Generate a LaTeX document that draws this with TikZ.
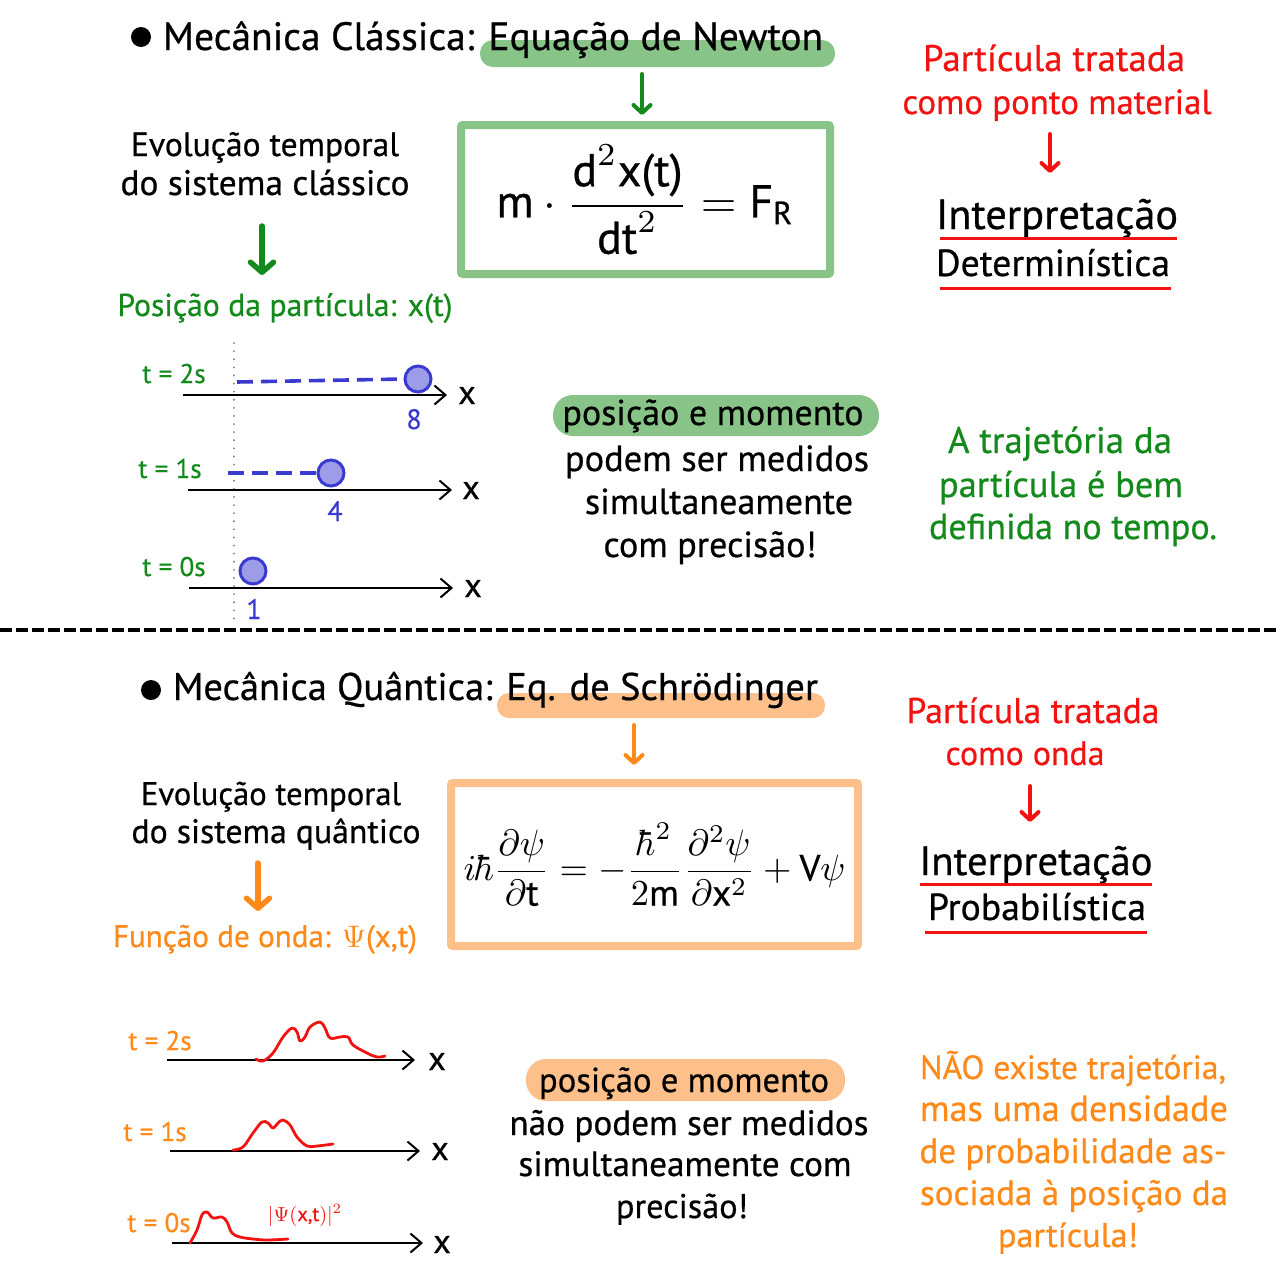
\documentclass[tikz,border=0pt]{standalone}
\usepackage{fontspec}
\setmainfont{PT Sans}[FakeBold=0.6]
\usepackage{graphicx}
\usetikzlibrary{arrows.meta}

\definecolor{hlgreen}{HTML}{88C488}
\definecolor{txgreen}{HTML}{138A1B}
\definecolor{hlorange}{HTML}{FDC08A}
\definecolor{txorange}{HTML}{FF8A1A}
\definecolor{txred}{HTML}{F21212}
\definecolor{ptblue}{HTML}{3A3AD0}
\definecolor{ptfill}{HTML}{9C9CE8}

% scale a line of text to a given width (in pt), keeping its proportions
\newcommand{\wfit}[2]{\resizebox{#1pt}{!}{#2}}

\begin{document}
\begin{tikzpicture}[x=1pt,y=-1pt,
  txt/.style={inner sep=0pt, anchor=base},
  tlabel/.style={inner sep=0pt, anchor=base, font=\fontsize{27}{30}\selectfont},
  xlabel/.style={inner sep=0pt, anchor=base, font=\fontsize{34}{38}\selectfont},
  numlabel/.style={inner sep=0pt, anchor=base, text=ptblue, font=\fontsize{28}{32}\selectfont},
  eqbox/.style={line width=8pt, rounded corners=2pt, inner sep=0pt},
  arr/.style={line width=4pt, line cap=round, -{Straight Barb[length=8pt,width=17pt,round]}},
  bigarr/.style={line width=5.5pt, line cap=round, -{Straight Barb[length=10pt,width=23pt,round]}},
  axis/.style={line width=2pt, -{Straight Barb[length=11pt,width=19pt]}},
  uline/.style={txred, line width=3pt},
  ball/.style={circle, draw=ptblue, fill=ptfill, line width=3pt, minimum size=26pt, inner sep=0pt},
  trail/.style={ptblue, line width=3.6pt, dash pattern=on 16pt off 8pt},
  wave/.style={txred, line width=2.8pt, line cap=round, line join=round}]

\useasboundingbox (0,0) rectangle (1280,1280);
\fill[white] (0,0) rectangle (1280,1280);

% ---------------- classical mechanics ----------------
\fill[hlgreen, rounded corners=13pt] (480,40) rectangle (835,67);
\fill[black] (141,37) circle (10);
\node[txt] (titA) at (493,50) {\wfit{660}{Mecânica Clássica: Equação de Newton}};

\coordinate (gA1) at (642,74);
\coordinate (gA2) at (642,115);
\draw[arr, txgreen] (gA1) -- (gA2);

\node[eqbox, draw=hlgreen, minimum width=369pt, minimum height=149pt] (newton) at (645.5,199.5)
  {\wfit{298}{$\mbox{m}\cdot\displaystyle\frac{\mbox{d}^{2}\mbox{x(t)}}{\mbox{dt}^{2}}=\mbox{F}_{\mbox{\scriptsize R}}$}};

\node[txt] (evoA1) at (265,156) {\wfit{268}{Evolução temporal}};
\node[txt] (evoA2) at (265,195) {\wfit{289}{do sistema clássico}};
\coordinate (gB1) at (262,226);
\coordinate (gB2) at (262,275);
\draw[bigarr, txgreen] (gB1) -- (gB2);
\node[txt, text=txgreen] (posA) at (285,316) {\wfit{335}{Posição da partícula: x(t)}};

\node[txt, text=txred] (redA1) at (1054,71) {\wfit{262}{Partícula tratada}};
\node[txt, text=txred] (redA2) at (1057,114) {\wfit{309}{como ponto material}};
\coordinate (rA1) at (1050,134);
\coordinate (rA2) at (1050,173);
\draw[arr, txred] (rA1) -- (rA2);
\node[txt] (intA1) at (1057,229) {\wfit{242}{Interpretação}};
\node[txt] (intA2) at (1053,276) {\wfit{234}{Determinística}};
\draw[uline] (940,238) -- (1177,238);
\draw[uline] (940,288) -- (1171,288);

% positions of the particle at t = 0, 1, 2 s
\draw[gray, line width=2pt, line cap=round, dash pattern=on 0.1pt off 8pt] (234,343) -- (234,620);

\node[tlabel, text=txgreen] (tA2) at (174,383) {t = 2s};
\coordinate (axA2s) at (183,395);
\coordinate (axA2e) at (447,395);
\draw[axis] (axA2s) -- (axA2e);
\node[xlabel] (xA2) at (467,404) {x};
\coordinate (dA2) at (237,382);
\node[ball] (bA2) at (418,379) {};
\draw[trail] (dA2) -- (bA2.west);
\node[numlabel] (nA2) at (414,429) {8};

\node[tlabel, text=txgreen] (tA1) at (170,478) {t = 1s};
\coordinate (axA1s) at (188,490);
\coordinate (axA1e) at (452,490);
\draw[axis] (axA1s) -- (axA1e);
\node[xlabel] (xA1) at (471,499) {x};
\coordinate (dA1) at (228,473);
\node[ball] (bA1) at (331,473) {};
\draw[trail] (dA1) -- (bA1.west);
\node[numlabel] (nA1) at (335,521) {4};

\node[tlabel, text=txgreen] (tA0) at (174,576) {t = 0s};
\coordinate (axA0s) at (189,588);
\coordinate (axA0e) at (453,588);
\draw[axis] (axA0s) -- (axA0e);
\node[xlabel] (xA0) at (473,597) {x};
\node[ball] (bA0) at (253,571) {};
\node[numlabel] (nA0) at (254,619) {1};

\fill[hlgreen, rounded corners=20pt] (553,395) rectangle (879,436);
\node[txt] (midA1) at (713,425) {\wfit{301}{posição e momento}};
\node[txt] (midA2) at (717,471) {\wfit{304}{podem ser medidos}};
\node[txt] (midA3) at (719,514) {\wfit{268}{simultaneamente}};
\node[txt] (midA4) at (710,557) {\wfit{213}{com precisão!}};

\node[txt, text=txgreen] (grA1) at (1060,453) {\wfit{224}{A trajetória da}};
\node[txt, text=txgreen] (grA2) at (1061,497) {\wfit{244}{partícula é bem}};
\node[txt, text=txgreen] (grA3) at (1073,539) {\wfit{288}{definida no tempo.}};

% ---------------- separator ----------------
\draw[line width=3.5pt, dash pattern=on 12pt off 4pt] (0,630) -- (1280,630);

% ---------------- quantum mechanics ----------------
\fill[hlorange, rounded corners=12pt] (497,693) rectangle (825,718);
\fill[black] (151,690) circle (10);
\node[txt] (titB) at (495.5,700) {\wfit{645}{Mecânica Quântica: Eq. de Schrödinger}};

\coordinate (oA1) at (634,725);
\coordinate (oA2) at (634,765);
\draw[arr, txorange] (oA1) -- (oA2);

\node[eqbox, draw=hlorange, minimum width=407pt, minimum height=163pt] (schrod) at (654.5,864.5)
  {\wfit{382}{$\displaystyle i\hbar\frac{\partial\psi}{\partial\mbox{t}}=-\frac{\hbar^{2}}{2\mbox{m}}\frac{\partial^{2}\psi}{\partial\mbox{x}^{2}}+\mbox{V}\psi$}};

\node[txt] (evoB1) at (271,805) {\wfit{260}{Evolução temporal}};
\node[txt] (evoB2) at (276,843) {\wfit{289}{do sistema quântico}};
\coordinate (oB1) at (258,863);
\coordinate (oB2) at (258,911);
\draw[bigarr, txorange] (oB1) -- (oB2);
\node[txt, text=txorange] (funB) at (265,947) {\wfit{304}{Função de onda: $\Psi$(x,t)}};

\node[txt, text=txred] (redB1) at (1033,723) {\wfit{253}{Partícula tratada}};
\node[txt, text=txred] (redB2) at (1025,765) {\wfit{159}{como onda}};
\coordinate (rB1) at (1030,786);
\coordinate (rB2) at (1030,822);
\draw[arr, txred] (rB1) -- (rB2);
\node[txt] (intB1) at (1036,875) {\wfit{233}{Interpretação}};
\node[txt] (intB2) at (1037,920) {\wfit{218}{Probabilística}};
\draw[uline] (920,884) -- (1152,884);
\draw[uline] (925,932) -- (1147,932);

% probability densities at t = 0, 1, 2 s
\node[tlabel, text=txorange] (tB2) at (160,1050) {t = 2s};
\coordinate (axB2s) at (167,1060);
\coordinate (axB2e) at (415,1060);
\draw[axis] (axB2s) -- (axB2e);
\node[xlabel] (xB2) at (437,1070) {x};
\draw[wave] plot[smooth, tension=0.6] coordinates {(256,1059) (263,1061) (273,1053) (283,1037) (292,1028) (297,1032) (300,1041) (305,1037) (310,1027) (320,1022) (325,1028) (330,1038) (340,1037) (348,1037) (353,1045) (367,1053) (377,1057) (385,1056)};

\node[tlabel, text=txorange] (tB1) at (155,1141) {t = 1s};
\coordinate (axB1s) at (170,1151);
\coordinate (axB1e) at (420,1151);
\draw[axis] (axB1s) -- (axB1e);
\node[xlabel] (xB1) at (440,1160) {x};
\draw[wave] plot[smooth, tension=0.6] coordinates {(233,1150) (243,1147) (253,1133) (262,1122) (268,1123) (273,1128) (278,1123) (283,1120) (290,1125) (297,1137) (307,1146) (317,1146) (333,1144)};

\node[tlabel, text=txorange] (tB0) at (159,1232) {t = 0s};
\coordinate (axB0s) at (172,1243);
\coordinate (axB0e) at (423,1243);
\draw[axis] (axB0s) -- (axB0e);
\node[xlabel] (xB0) at (442,1253) {x};
\draw[wave] plot[smooth, tension=0.6] coordinates {(190,1243) (197,1230) (202,1215) (207,1212) (213,1218) (222,1217) (227,1222) (232,1233) (240,1237) (253,1239) (267,1240) (288,1239)};
\node[txt, text=txred] (dens) at (305,1221) {\wfit{74}{$|\Psi(\mbox{x,t})|^{2}$}};

\fill[hlorange, rounded corners=20pt] (526,1059) rectangle (845,1101);
\node[txt] (midB1) at (684,1092) {\wfit{290}{posição e momento}};
\node[txt] (midB2) at (689,1135) {\wfit{359}{não podem ser medidos}};
\node[txt] (midB3) at (685,1176) {\wfit{333}{simultaneamente com}};
\node[txt] (midB4) at (682,1218) {\wfit{132}{precisão!}};

\node[txt, text=txorange] (orB1) at (1073,1079) {\wfit{306}{NÃO existe trajetória,}};
\node[txt, text=txorange] (orB2) at (1074,1121) {\wfit{308}{mas uma densidade}};
\node[txt, text=txorange] (orB3) at (1073,1163) {\wfit{307}{de probabilidade as-}};
\node[txt, text=txorange] (orB4) at (1074,1205) {\wfit{308}{sociada à posição da}};
\node[txt, text=txorange] (orB5) at (1068,1247) {\wfit{140}{partícula!}};

\end{tikzpicture}
\end{document}
